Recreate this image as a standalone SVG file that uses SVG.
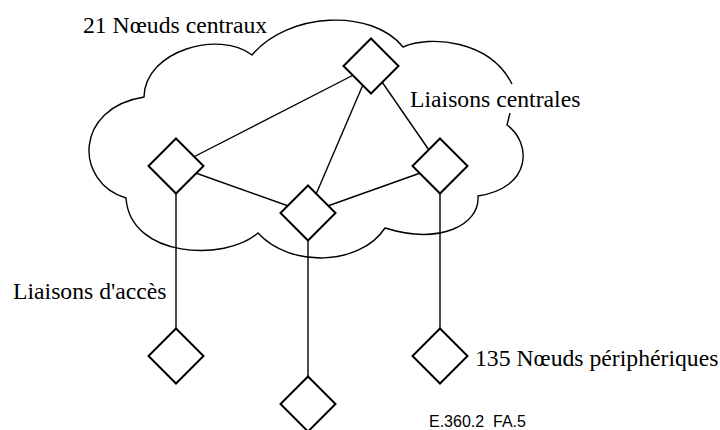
<svg xmlns="http://www.w3.org/2000/svg" width="720" height="430" viewBox="0 0 720 430">
  <style>
    .cloud { fill: none; stroke: #000; stroke-width: 1.4; stroke-linejoin: miter; }
    .link { fill: none; stroke: #000; stroke-width: 1.4; }
    .node { fill: #fff; stroke: #000; stroke-width: 2; stroke-linejoin: miter; }
    .label { font-family: "Liberation Serif", "Times New Roman", serif; font-size: 23.7px; fill: #000; }
    .ref { font-family: "Liberation Sans", Arial, sans-serif; font-size: 16px; fill: #000; }
  </style>
  <defs>
    <polygon id="diamond" points="0,-27.5 27.5,0 0,27.5 -27.5,0"/>
  </defs>

  <rect width="720" height="430" fill="#fff"/>

  <!-- cloud outline of the core network (open where the label sits) -->
  <g id="cloud">
    <path class="cloud" d="M510,113 L507,125 C532,143 532,188 478,196 C480,225 440,245 385,228 C360,266 290,268 258,233 C225,262 130,258 126,198 C74,182 74,108 144,97 C145,50 220,30 252,55 C288,12 372,8 403,47 C430,35 490,40 512,84"/>
  </g>

  <!-- connectors -->
  <g id="connectors">
    <!-- core links -->
    <line class="link" x1="371" y1="66" x2="176" y2="166"/>
    <line class="link" x1="371" y1="66" x2="308" y2="213"/>
    <line class="link" x1="371" y1="66" x2="440" y2="166"/>
    <line class="link" x1="176" y1="166" x2="308" y2="213"/>
    <line class="link" x1="308" y1="213" x2="440" y2="166"/>
    <!-- access links -->
    <line class="link" x1="176" y1="166" x2="176" y2="356"/>
    <line class="link" x1="308" y1="213" x2="308" y2="404"/>
    <line class="link" x1="440" y1="166" x2="440" y2="356"/>
  </g>

  <!-- core nodes -->
  <g id="core-top"><use href="#diamond" class="node" x="371" y="66"/></g>
  <g id="core-left"><use href="#diamond" class="node" x="176" y="166"/></g>
  <g id="core-middle"><use href="#diamond" class="node" x="308" y="213"/></g>
  <g id="core-right"><use href="#diamond" class="node" x="440" y="166"/></g>

  <!-- peripheral nodes -->
  <g id="edge-left"><use href="#diamond" class="node" x="176" y="356"/></g>
  <g id="edge-middle"><use href="#diamond" class="node" x="308" y="404"/></g>
  <g id="edge-right"><use href="#diamond" class="node" x="440" y="356"/></g>

  <!-- labels -->
  <g id="labels">
    <text class="label" x="83" y="33">21 Nœuds centraux</text>
    <text class="label" x="410" y="107">Liaisons centrales</text>
    <text class="label" x="13" y="299">Liaisons d'accès</text>
    <text class="label" x="475" y="366">135 Nœuds périphériques</text>
    <text class="ref" x="429" y="427" xml:space="preserve">E.360.2  FA.5</text>
  </g>
</svg>
